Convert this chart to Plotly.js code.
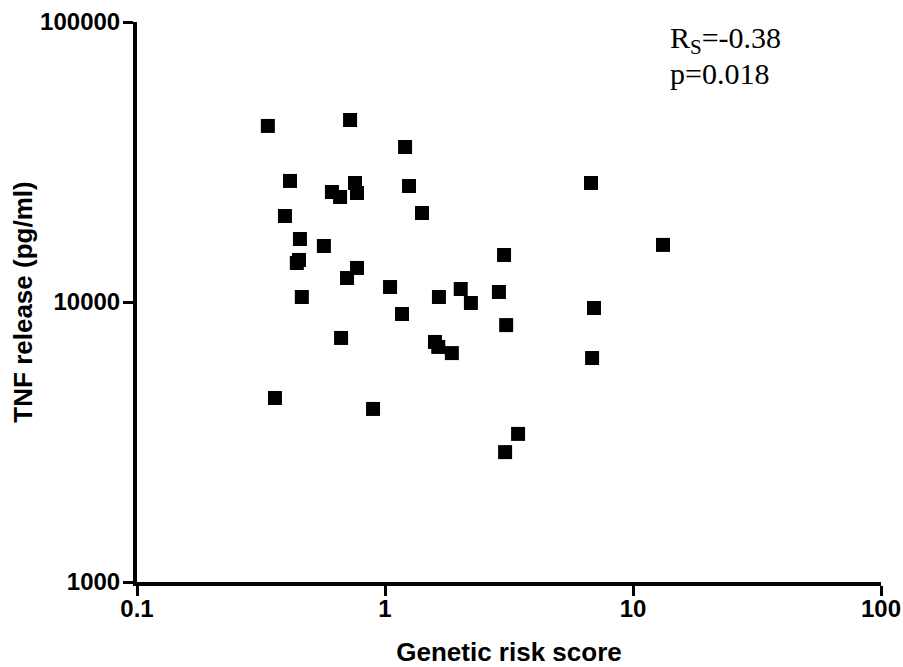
<!DOCTYPE html>
<html>
<head>
<meta charset="utf-8">
<script src="https://cdn.plot.ly/plotly-3.0.1.min.js"></script>
<style>html,body{margin:0;padding:0;background:#fff;}#chart{width:903px;height:667px;}</style>
</head>
<body>
<div id="chart"></div>
<script>
const geneticRiskScore = [0.337, 0.723, 1.205, 0.414, 1.25, 0.611, 0.757, 0.659, 0.771, 0.395,
  1.41, 0.454, 0.567, 0.450, 0.441, 0.771, 0.703, 1.048, 0.462, 1.171,
  0.665, 0.360, 0.895, 6.77, 13.21, 3.02, 1.65, 2.02, 2.22, 2.88,
  6.96, 3.08, 1.59, 1.64, 1.86, 6.84, 3.44, 3.05];
const tnfRelease = [42540, 44670, 35780, 27060, 25960, 24710, 26610, 23710, 24500, 20280,
  20790, 16790, 15850, 14130, 13780, 13230, 12180, 11310, 10420, 9060,
  7440, 4540, 4150, 26610, 15990, 14720, 10420, 11130, 9920, 10860,
  9520, 8270, 7200, 6910, 6570, 6310, 3380, 2910];
const xTickVals = [0.1, 1, 10, 100];
const xTickText = ['0.1', '1', '10', '100'];
const yTickVals = [1000, 10000, 100000];
const yTickText = ['1000', '10000', '100000'];
const statsLine1 = 'R<sub>S</sub>=-0.38';
const statsLine2 = 'p=0.018';

const titleFont = {family: 'Liberation Sans, Arial, sans-serif', size: 26, color: '#000', weight: 'bold'};
const tickFont = {family: 'Liberation Sans, Arial, sans-serif', size: 24, color: '#000', weight: 'bold'};
const statFont = {family: 'Liberation Serif, Times New Roman, serif', size: 30, color: '#000'};

Plotly.newPlot('chart', [{
  type: 'scatter',
  mode: 'markers',
  x: geneticRiskScore,
  y: tnfRelease,
  marker: {symbol: 'square', size: 14, color: '#000', line: {width: 0}},
  hoverinfo: 'x+y'
}], {
  width: 903, height: 667,
  margin: {l: 137, r: 22, t: 22, b: 85},
  paper_bgcolor: '#fff', plot_bgcolor: '#fff',
  showlegend: false,
  xaxis: {
    type: 'log', range: [-1, 2],
    tickvals: xTickVals, ticktext: xTickText,
    showgrid: false, zeroline: false,
    showline: true, linecolor: '#000', linewidth: 4,
    ticks: 'outside', ticklen: 10, tickwidth: 3, tickcolor: '#000',
    tickfont: tickFont, ticklabelstandoff: -8,
    title: {text: 'Genetic risk score', font: titleFont, standoff: 24}
  },
  yaxis: {
    type: 'log', range: [3, 5],
    tickvals: yTickVals, ticktext: yTickText,
    showgrid: false, zeroline: false,
    showline: true, linecolor: '#000', linewidth: 4,
    ticks: 'outside', ticklen: 10, tickwidth: 3, tickcolor: '#000',
    tickfont: tickFont, ticklabelstandoff: -2,
    title: {text: 'TNF release (pg/ml)', font: titleFont, standoff: 1}
  },
  annotations: [{
    xref: 'paper', yref: 'paper', x: 0.714, y: 0.968,
    xanchor: 'left', yanchor: 'middle', align: 'left', showarrow: false,
    text: statsLine1, font: statFont
  }, {
    xref: 'paper', yref: 'paper', x: 0.714, y: 0.908,
    xanchor: 'left', yanchor: 'middle', align: 'left', showarrow: false,
    text: statsLine2, font: statFont
  }]
}, {displayModeBar: false, staticPlot: true});
</script>
</body>
</html>
